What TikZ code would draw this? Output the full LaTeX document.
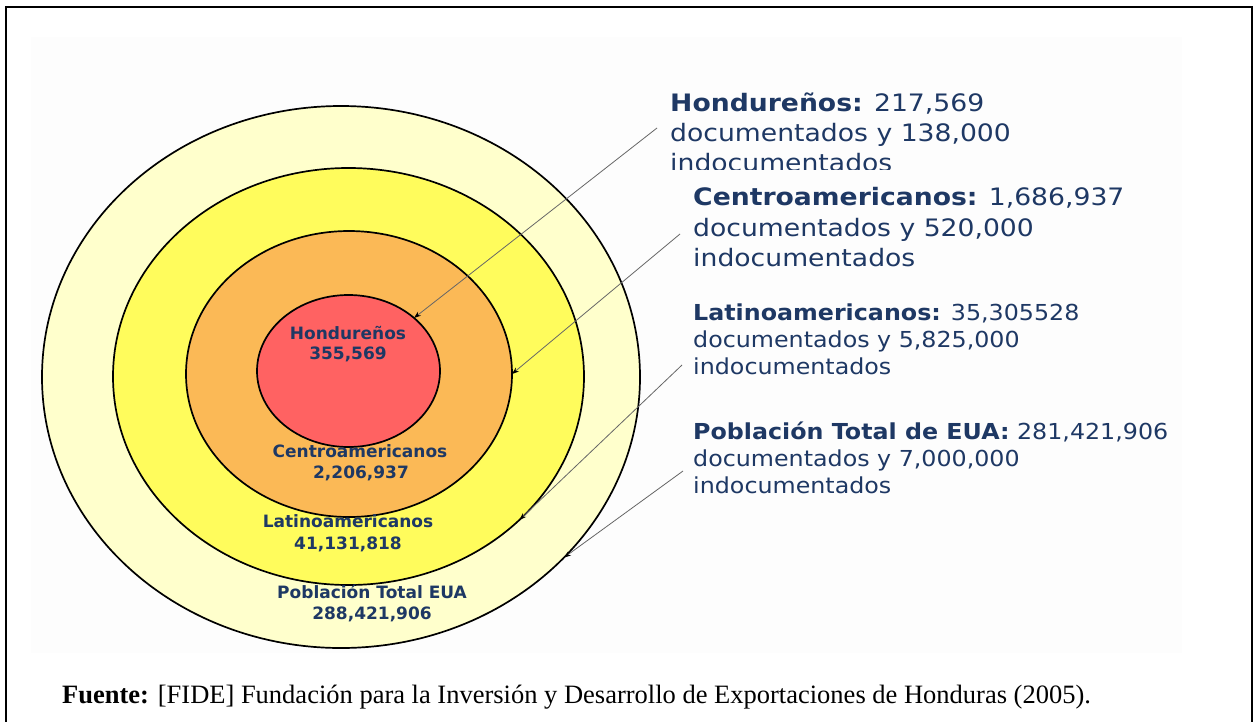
\documentclass[tikz,border=0pt]{standalone}
\usepackage{fontspec}
\usepackage{graphicx}
\setmainfont{Liberation Serif}
\newfontfamily\tah{DejaVu Sans}
\usetikzlibrary{arrows.meta,shapes.geometric}
\definecolor{txtblue}{RGB}{30,56,100}
\definecolor{ringpale}{RGB}{255,255,204}
\definecolor{ringyellow}{RGB}{255,252,92}
\definecolor{ringorange}{RGB}{251,185,86}
\definecolor{ringred}{RGB}{255,98,98}
\definecolor{bgfaint}{RGB}{253,253,253}
\newcommand{\xsA}[1]{\scalebox{1.11}[1]{#1}}
\newcommand{\xsB}[1]{\scalebox{1.08}[1]{#1}}
\begin{document}
\begin{tikzpicture}[x=1pt,y=-1pt,
  ring/.style={ellipse, draw=black, line width=1.7pt, inner sep=0pt, outer sep=0pt},
  inlab/.style={font=\tah\bfseries\fontsize{17}{20}\selectfont, text=txtblue, inner sep=0pt, anchor=base},
  rtxt/.style={text=txtblue, inner sep=0pt, anchor=base west},
  bigtxt/.style={rtxt, font=\tah\fontsize{24}{28}\selectfont},
  midtxt/.style={rtxt, font=\tah\fontsize{22}{26}\selectfont},
  conn/.style={draw=black!60, line width=0.8pt, -{Stealth[length=7pt,width=5pt,color=black]}}]
\useasboundingbox (0,0) rectangle (1258,721);
\fill[white] (0,0) rectangle (1258,721);
\fill[bgfaint] (31,37) rectangle (1182,653);
\draw[line width=1.6pt] (6,7) rectangle (1252,780);

% rings
\node[ring, fill=ringpale, minimum width=598pt, minimum height=542pt] (pob) at (341,377) {};
\node[ring, fill=ringyellow, minimum width=471pt, minimum height=417pt] (lat) at (348.5,376.5) {};
\node[ring, fill=ringorange, minimum width=326pt, minimum height=286pt] (cen) at (349,374) {};
\node[ring, fill=ringred, minimum width=183pt, minimum height=152pt] (hon) at (348.5,371) {};

% inner labels
\node[inlab] (honA) at (348,339) {Hondureños};
\node[inlab] (honB) at (348,359) {355,569};
\node[inlab] (cenA) at (360,457) {Centroamericanos};
\node[inlab] (cenB) at (361,478) {2,206,937};
\node[inlab] (latA) at (348,527) {Latinoamericanos};
\node[inlab] (latB) at (348,549) {41,131,818};
\node[inlab] (pobA) at (372,598) {Población Total EUA};
\node[inlab] (pobB) at (372,619) {288,421,906};

% right texts
\begin{scope}
\clip (600,60) rectangle (1200,169);
\node[bigtxt] (hr1) at (670,111) {\xsA{\textbf{Hondureños:} 217,569}};
\node[bigtxt] (hr2) at (670,141) {\xsA{documentados y 138,000}};
\node[bigtxt] (hr3) at (670,171) {\xsA{indocumentados}};
\end{scope}
\node[bigtxt] (cr1) at (693,205) {\xsA{\textbf{Centroamericanos:} 1,686,937}};
\node[bigtxt] (cr2) at (693,236) {\xsA{documentados y 520,000}};
\node[bigtxt] (cr3) at (693,266) {\xsA{indocumentados}};
\node[midtxt] (lr1) at (693,320) {\xsB{\textbf{Latinoamericanos:} 35,305528}};
\node[midtxt] (lr2) at (693,347) {\xsB{documentados y 5,825,000}};
\node[midtxt] (lr3) at (693,374) {\xsB{indocumentados}};
\node[midtxt] (pr1) at (693,439) {\xsB{\textbf{Población Total de EUA:} 281,421,906}};
\node[midtxt] (pr2) at (693,466) {\xsB{documentados y 7,000,000}};
\node[midtxt] (pr3) at (693,493) {\xsB{indocumentados}};

% connectors
\coordinate (hs) at (657,128);
\coordinate (cs) at (680,234);
\coordinate (ls) at (682,365);
\coordinate (ps) at (683,471);
\draw[conn] (hs) -- (hon.39.5);
\draw[conn] (cs) -- (cen.0);
\draw[conn] (ls) -- (lat.-40.25);
\draw[conn] (ps) -- (pob.-39.9);

% caption
\node[anchor=base west, inner sep=0pt, font=\fontsize{26.5}{30}\selectfont] (cap) at (62,703)
  {\textbf{Fuente:} [FIDE] Fundación para la Inversión y Desarrollo de Exportaciones de Honduras (2005).};
\end{tikzpicture}
\end{document}
